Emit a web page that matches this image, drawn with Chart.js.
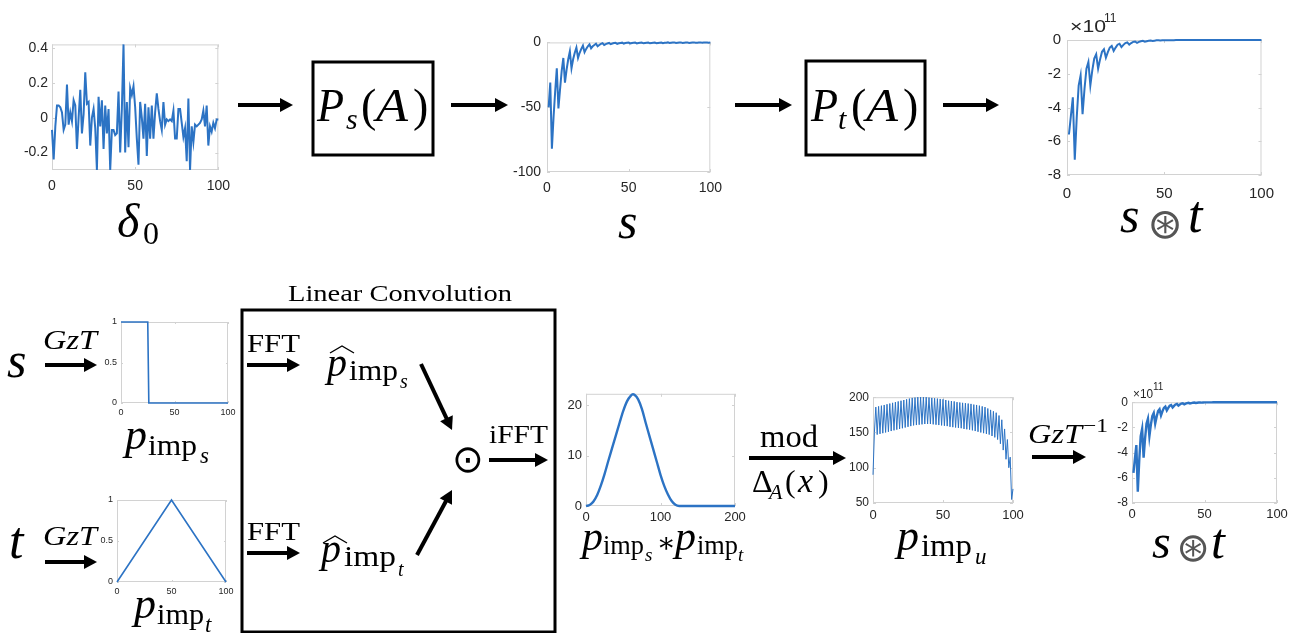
<!DOCTYPE html>
<html><head><meta charset="utf-8">
<script src="https://cdn.jsdelivr.net/npm/chart.js@4.4.0/dist/chart.umd.min.js"></script>
<style>
html,body{margin:0;padding:0;background:#fff;}
#root{position:relative;width:1291px;height:633px;overflow:hidden;background:#fff;}
.cw{position:absolute;}
svg{position:absolute;left:0;top:0;}
</style></head>
<body><div id="root"><svg id="ov" width="1291" height="633"></svg></div>
<script>
// ---------------- DATA ----------------
const delta0 = [-0.07,-0.24,-0.05,0.07,0.07,0.06,0.03,-0.07,-0.04,0.19,
 -0.04,0.03,-0.02,0.10,0.07,-0.18,0.00,0.16,-0.09,0.02,
 0.26,0.08,0.09,-0.16,0.00,0.05,-0.06,-0.30,0.12,-0.05,
 0.10,-0.18,0.07,-0.09,0.05,-0.30,-0.07,-0.07,-0.10,-0.09,
 0.15,-0.20,0.05,0.42,-0.20,0.09,-0.17,0.17,0.13,0.18,
 0.06,-0.12,-0.27,0.09,0.00,-0.12,0.08,-0.22,0.06,-0.12,
 0.07,-0.12,0.03,0.14,0.05,-0.02,-0.07,0.09,-0.04,-0.01,
 -0.02,-0.01,-0.02,0.04,-0.12,-0.12,0.05,0.05,-0.03,-0.11,
 -0.06,-0.25,0.11,-0.30,-0.05,-0.14,-0.04,-0.05,-0.04,-0.03,
 -0.01,0.04,-0.05,0.07,-0.16,-0.05,-0.08,-0.03,-0.06,-0.01,-0.01];
const sSeries = [-50,-31,-82,-58,-38,-20,-51,-36,-22,-12,
 -31,-21,-13,-7,-20,-13,-8,-4,-12,-8,
 -5,-2.5,-7.5,-5,-3,-1.5,-4.5,-3,-2,-1,
 -3,-2,-1.2,-0.6,-2,-1.3,-0.8,-0.4,-1.4,-0.9,
 -0.5,-0.3,-1.1,-0.7,-0.4,-0.2,-0.9,-0.5,-0.3,-0.1,
 -0.8,-0.5,-0.3,-0.1,-0.8,-0.5,-0.3,-0.1,-0.7,-0.4,
 -0.2,-0.1,-0.7,-0.4,-0.2,-0.1,-0.6,-0.4,-0.2,-0.1,
 -0.6,-0.3,-0.2,0,-0.5,-0.3,-0.1,0,-0.5,-0.3,
 -0.1,0,-0.4,-0.2,-0.1,0,-0.4,-0.2,-0.1,0,
 -0.3,-0.2,-0.1,0,-0.3,-0.1,0,0,-0.2,-0.1];
// s (*) t, in units of 1e11
const stSeries = [-5.6,-4.5,-3.4,-7.1,-4.6,-2.7,-2.1,-4.4,-2.9,-1.7,
 -1.3,-2.7,-1.8,-1.1,-0.85,-1.7,-1.15,-0.7,-0.55,-1.05,
 -0.72,-0.45,-0.35,-0.65,-0.45,-0.28,-0.22,-0.42,-0.29,-0.18,
 -0.14,-0.27,-0.18,-0.11,-0.09,-0.17,-0.11,-0.07,-0.05,-0.1,
 -0.07,-0.04,-0.03,-0.06,-0.04,-0.02,-0.02,-0.03,-0.02,-0.01,
 -0.01,-0.01,-0.01,-0.01,-0.01,0,0,0,0,0,
 0,0,0,0,0,0,0,0,0,0, 0,0,0,0,0,0,0,0,0,0,
 0,0,0,0,0,0,0,0,0,0, 0,0,0,0,0,0,0,0,0,0];
const pImpSX = [0,25,26,100];
const pImpSY = [1,1,0,0];
const pImpTX = [0,50,100];
const pImpTY = [0,1,0];
const convX = [0,5,10,15,20,25,30,35,40,45,50,55,60,63,65,70,75,80,85,90,95,100,105,110,115,120,125,200];
const convY = [0,0.2,0.9,2.2,4.1,6.4,9.0,11.5,14.0,16.5,18.9,20.8,21.9,22.2,22.1,21.2,19.3,16.6,14.0,11.4,8.8,6.2,4.0,2.3,1.0,0.25,0,0];
const pImpU = [90,150,186,147,187,148,188,149,189,150,
 190,151,191,152,192,153,193,154,194,155,
 195,156,196,157,197,158,198,159,199,160,
 199.5,160.5,200,161,200,161.5,200,162,200,162,
 199.5,162,199,161.5,198.5,161,198,160.5,197.5,160,
 197,159.5,196,159,195,158,194.5,157.5,194,157,
 193,156.5,192.5,156,192,155,191.5,154.5,191,154,
 190.5,153,189.5,152,189,151,188,150,187,149,
 186,148,184,147,182,145,180,143,178,140,
 174,134,168,125,155,112,140,100,115,55,70];
const xTicks100 = [0,50,100];
const xTicks200 = [0,100,200];
const yTicksD0 = [-0.2,0,0.2,0.4];
const yTicksS = [-100,-50,0];
const yTicksST = [-8,-6,-4,-2,0];
const yTicksST2 = [-8,-6,-4,-2,0];
const yTicksP = [0,0.5,1];
const yTicksConv = [0,10,20];
const yTicksU = [50,100,150,200];

// ---------------- RENDER ----------------
const TICKC = '#262626', BOXC = '#d2d2d2', LINEC = '#2c73c4';
const SANS = "'Liberation Sans', Arial, Helvetica, sans-serif";
const SERIF = "'Liberation Serif', 'Times New Roman', serif";
const root = document.getElementById('root');

const boxPlugin = {
  id: 'mbox',
  beforeDatasetsDraw(c) {
    const a = c.chartArea, ctx = c.ctx, tl = c.options.plugins.mbox.tl || 3;
    ctx.save();
    ctx.strokeStyle = BOXC; ctx.lineWidth = 1;
    ctx.strokeRect(a.left + 0.5, a.top + 0.5, a.right - a.left - 1, a.bottom - a.top - 1);
    ctx.beginPath();
    c.scales.x.ticks.forEach(t => {
      const p = Math.round(c.scales.x.getPixelForValue(t.value)) + 0.5;
      ctx.moveTo(p, a.bottom); ctx.lineTo(p, a.bottom - tl);
      ctx.moveTo(p, a.top); ctx.lineTo(p, a.top + tl);
    });
    c.scales.y.ticks.forEach(t => {
      const p = Math.round(c.scales.y.getPixelForValue(t.value)) + 0.5;
      ctx.moveTo(a.left, p); ctx.lineTo(a.left + tl, p);
      ctx.moveTo(a.right, p); ctx.lineTo(a.right - tl, p);
    });
    ctx.stroke();
    ctx.restore();
  }
};

function pts(xs, ys) { return ys.map((y, i) => ({ x: xs[i], y })); }
function idx(ys, start) { return ys.map((_, i) => i + start); }

function makeChart(c) {
  const yw = 50, padT = 10, padR = 18, xh = 30;
  const W = yw + (c.R - c.L) + padR, H = padT + (c.B - c.T) + xh;
  const div = document.createElement('div');
  div.className = 'cw';
  div.style.left = (c.L - yw) + 'px'; div.style.top = (c.T - padT) + 'px';
  div.style.width = W + 'px'; div.style.height = H + 'px';
  const cv = document.createElement('canvas');
  cv.width = W; cv.height = H; cv.style.width = W + 'px'; cv.style.height = H + 'px';
  div.appendChild(cv); root.insertBefore(div, document.getElementById('ov'));
  new Chart(cv.getContext('2d'), {
    type: 'line',
    data: { datasets: [{ data: c.data, borderColor: LINEC, borderWidth: c.lw, pointRadius: 0,
      tension: c.smooth ? 0.4 : 0, cubicInterpolationMode: c.smooth ? 'monotone' : 'default', clip: 3, fill: false }] },
    options: {
      responsive: false, animation: false, events: [], devicePixelRatio: 1,
      layout: { padding: { left: 0, top: padT, right: padR, bottom: 0 } },
      plugins: { legend: { display: false }, tooltip: { enabled: false }, mbox: { tl: c.tl } },
      scales: {
        x: { type: 'linear', min: c.xmin, max: c.xmax,
          afterBuildTicks: s => { s.ticks = c.xt.map(v => ({ value: v })); },
          afterFit: s => { s.height = xh; },
          grid: { display: false, drawTicks: false }, border: { display: false },
          ticks: { color: TICKC, font: { family: SANS, size: c.fs }, padding: c.xpad, maxRotation: 0, autoSkip: false, callback: v => String(v) } },
        y: { type: 'linear', min: c.ymin, max: c.ymax,
          afterBuildTicks: s => { s.ticks = c.yt.map(v => ({ value: v })); },
          afterFit: s => { s.width = yw; },
          grid: { display: false, drawTicks: false }, border: { display: false },
          ticks: { color: TICKC, font: { family: SANS, size: c.yfs || c.fs }, padding: c.ypad, autoSkip: false, callback: v => String(v) } }
      }
    },
    plugins: [boxPlugin]
  });
}

const charts = [
  { L: 52, T: 42, R: 220, B: 170, xmin: 0, xmax: 100, ymin: -0.3, ymax: 0.42, xt: xTicks100, yt: yTicksD0, fs: 14, xpad: 8, ypad: 4, lw: 2, tl: 3, data: pts(idx(delta0, 0), delta0) },
  { L: 547, T: 38, R: 712, B: 172, xmin: 0, xmax: 100, ymin: -100, ymax: 0, xt: xTicks100, yt: yTicksS, fs: 14, xpad: 8, ypad: 6, lw: 2, tl: 3, data: pts(idx(sSeries, 1), sSeries) },
  { L: 1067, T: 35, R: 1266, B: 175, xmin: 0, xmax: 100, ymin: -8, ymax: 0, xt: xTicks100, yt: yTicksST, fs: 15, xpad: 10, ypad: 6, lw: 2, tl: 3, data: pts(idx(stSeries, 1), stSeries) },
  { L: 121, T: 322, R: 228, B: 403, xmin: 0, xmax: 100, ymin: 0, ymax: 1, xt: xTicks100, yt: yTicksP, fs: 9, xpad: 4, ypad: 4, lw: 1.6, tl: 2, data: pts(pImpSX, pImpSY) },
  { L: 117, T: 500, R: 226, B: 582, xmin: 0, xmax: 100, ymin: 0, ymax: 1, xt: xTicks100, yt: yTicksP, fs: 9, xpad: 4, ypad: 4, lw: 1.6, tl: 2, data: pts(pImpTX, pImpTY) },
  { L: 586, T: 392, R: 735, B: 506, xmin: 0, xmax: 200, ymin: 0, ymax: 22.3, xt: xTicks200, yt: yTicksConv, fs: 13, xpad: 4, ypad: 4, lw: 2.4, tl: 3, smooth: true, data: pts(convX, convY) },
  { L: 873, T: 396, R: 1013, B: 503, xmin: 0, xmax: 100, ymin: 50, ymax: 200, xt: xTicks100, yt: yTicksU, fs: 13, yfs: 12, xpad: 5, ypad: 4, lw: 1, tl: 3, data: pts(idx(pImpU, 0), pImpU) },
  { L: 1132, T: 401, R: 1277, B: 503, xmin: 0, xmax: 100, ymin: -8, ymax: 0, xt: xTicks100, yt: yTicksST2, fs: 13, yfs: 12, xpad: 4, ypad: 4, lw: 2.4, tl: 3, data: pts(idx(stSeries, 1), stSeries) }
];
charts.forEach(makeChart);

// ---------------- DIAGRAM OVERLAY ----------------
const NS = 'http://www.w3.org/2000/svg';
const ov = document.getElementById('ov');
function el(tag, attrs, text) {
  const e = document.createElementNS(NS, tag);
  for (const k in attrs) e.setAttribute(k, attrs[k]);
  if (text !== undefined) e.textContent = text;
  ov.appendChild(e); return e;
}
function txt(x, y, s, o = {}) {
  const a = { x, y, 'font-family': o.family || SERIF, 'font-size': o.size || 26, fill: o.fill || '#000' };
  if (o.italic) a['font-style'] = 'italic';
  if (o.anchor) a['text-anchor'] = o.anchor;
  if (o.len) { a.textLength = o.len; a.lengthAdjust = 'spacingAndGlyphs'; }
  if (o.central) a['dominant-baseline'] = 'central';
  return el('text', a, s);
}
function arrow(x1, y1, x2, y2, w = 4, hl = 13, hw = 7) {
  const dx = x2 - x1, dy = y2 - y1, L = Math.hypot(dx, dy), ux = dx / L, uy = dy / L;
  const bx = x2 - ux * hl, by = y2 - uy * hl;
  el('line', { x1, y1, x2: bx + ux, y2: by + uy, stroke: '#000', 'stroke-width': w });
  el('polygon', { points: `${x2},${y2} ${bx - uy * hw},${by + ux * hw} ${bx + uy * hw},${by - ux * hw}`, fill: '#000' });
}
function rect(x1, y1, x2, y2, w = 3) {
  el('rect', { x: x1, y: y1, width: x2 - x1, height: y2 - y1, fill: 'none', stroke: '#000', 'stroke-width': w });
}

// top row
arrow(238, 105, 293, 105);
rect(313, 62, 433, 155);
arrow(451, 105, 508, 105);
arrow(735, 105, 792, 105);
rect(806, 61, 925, 155);
arrow(943, 105, 999, 105);

txt(317, 121, 'P', { size: 46, italic: true, len: 27 });
txt(346, 129, 's', { size: 30, italic: true });
txt(361, 121, '(', { size: 46 });
txt(376, 121, 'A', { size: 46, italic: true, len: 32 });
txt(413, 121, ')', { size: 46 });

txt(811, 121, 'P', { size: 46, italic: true, len: 27 });
txt(838, 129, 't', { size: 30, italic: true });
txt(851, 121, '(', { size: 46 });
txt(866, 121, 'A', { size: 46, italic: true, len: 32 });
txt(903, 121, ')', { size: 46 });

txt(117, 237, 'δ', { size: 48, italic: true });
txt(143, 244, '0', { size: 32 });
txt(618, 238, 's', { size: 50, italic: true });
txt(1120, 232, 's', { size: 50, italic: true });
txt(1165, 223, '⊛', { size: 42, family: "'DejaVu Sans', sans-serif", anchor: 'middle', central: true, fill: '#555' });
txt(1188, 232, 't', { size: 52, italic: true });
txt(1070, 32, '×10', { size: 17, family: SANS, fill: TICKC, len: 36 });
txt(1104, 22, '11', { size: 12, family: SANS, fill: TICKC });

// bottom row
rect(242, 310, 555, 632);
txt(400, 301, 'Linear Convolution', { size: 23, anchor: 'middle', len: 224 });

txt(7, 377, 's', { size: 50, italic: true });
txt(43, 349, 'GzT', { size: 27, italic: true, len: 54 });
arrow(45, 365, 97, 365);
txt(9, 558, 't', { size: 52, italic: true });
txt(43, 545, 'GzT', { size: 27, italic: true, len: 54 });
arrow(45, 562, 97, 562);

txt(125, 449, 'p', { size: 44, italic: true });
txt(148, 455, 'imp', { size: 30, len: 49 });
txt(200, 463, 's', { size: 23, italic: true });
txt(134, 618, 'p', { size: 44, italic: true });
txt(157, 624, 'imp', { size: 30, len: 47 });
txt(205, 632, 't', { size: 23, italic: true });

txt(247, 352, 'FFT', { size: 26, len: 53 });
arrow(247, 365, 300, 365);
txt(247, 540, 'FFT', { size: 26, len: 53 });
arrow(247, 553, 300, 553);

txt(327, 376, 'p', { size: 40, italic: true });
txt(349, 380, 'imp', { size: 30, len: 49 });
txt(400, 388, 's', { size: 20, italic: true });
el('polyline', { points: '330,353 342,346 354,353', fill: 'none', stroke: '#000', 'stroke-width': 1.4 });
txt(321, 562, 'p', { size: 40, italic: true });
txt(344, 566, 'imp', { size: 30, len: 52 });
txt(398, 576, 't', { size: 20, italic: true });
el('polyline', { points: '323,543 335,536 347,543', fill: 'none', stroke: '#000', 'stroke-width': 1.4 });

arrow(421, 364, 452, 430);
arrow(417, 555, 452, 490);
txt(468, 459, '⊙', { size: 38, family: "'DejaVu Sans', sans-serif", anchor: 'middle', central: true });
txt(489, 443, 'iFFT', { size: 26, len: 59 });
arrow(489, 460, 548, 460);

txt(582, 550, 'p', { size: 42, italic: true });
txt(603, 554, 'imp', { size: 27, len: 41 });
txt(645, 561, 's', { size: 19, italic: true });
txt(666, 542, '∗', { size: 28, family: "'DejaVu Serif', serif", anchor: 'middle', central: true });
txt(675, 550, 'p', { size: 42, italic: true });
txt(697, 554, 'imp', { size: 27, len: 41 });
txt(738, 561, 't', { size: 19, italic: true });

txt(760, 447, 'mod', { size: 32, len: 58 });
arrow(749, 458, 846, 458);
txt(752, 492, 'Δ', { size: 32 });
txt(769, 499, 'A', { size: 22, italic: true });
txt(785, 492, '(', { size: 32 });
txt(798, 492, 'x', { size: 34, italic: true });
txt(818, 492, ')', { size: 32 });

txt(897, 550, 'p', { size: 44, italic: true });
txt(921, 556, 'imp', { size: 31, len: 51 });
txt(975, 564, 'u', { size: 23, italic: true });

txt(1028, 443, 'GzT', { size: 28, italic: true, len: 54 });
txt(1083, 432, '−1', { size: 19, len: 25 });
arrow(1032, 457, 1086, 457);

txt(1133, 398, '×10', { size: 13, family: SANS, fill: TICKC, len: 20 });
txt(1153, 390, '11', { size: 10, family: SANS, fill: TICKC });
txt(1152, 558, 's', { size: 48, italic: true });
txt(1193, 547, '⊛', { size: 40, family: "'DejaVu Sans', sans-serif", anchor: 'middle', central: true, fill: '#555' });
txt(1211, 558, 't', { size: 50, italic: true });
</script>
</body></html>
